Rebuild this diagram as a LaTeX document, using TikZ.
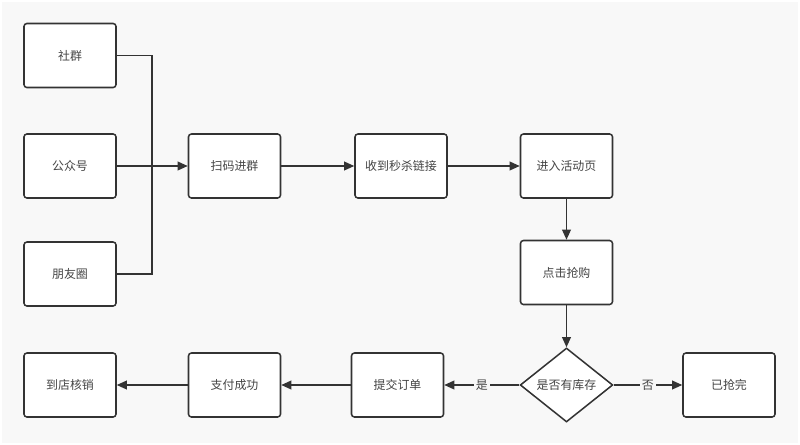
\documentclass[tikz,border=0pt]{standalone}
\usepackage{fontspec}
\setmainfont{Noto Sans CJK SC}
\usetikzlibrary{arrows.meta,shapes.geometric}
\definecolor{bgcol}{HTML}{F8F8F8}
\definecolor{linecol}{HTML}{333333}
\definecolor{textcol}{HTML}{444444}
\tikzset{
  stepbox/.style={draw=linecol,fill=white,line width=1.3pt,rounded corners=2.5pt,
    minimum width=2.76cm,minimum height=1.92cm,inner sep=0pt,text=textcol,
    font=\fontsize{10.2}{12}\selectfont},
  choice/.style={draw=linecol,fill=white,line width=1.3pt,diamond,aspect=1.24,
    minimum width=2.78cm,minimum height=2.22cm,inner sep=0pt,text=textcol,
    font=\fontsize{10.2}{12}\selectfont},
  flow/.style={draw=linecol,line width=1.3pt,-{Triangle[length=0.3cm,width=0.26cm]}},
  tag/.style={fill=bgcol,text=textcol,inner sep=1.5pt,font=\fontsize{10.2}{12}\selectfont}
}
\begin{document}
\begin{tikzpicture}[x=0.03cm,y=-0.03cm]
      \fill[white] (0,0) rectangle (800,445);
      \fill[bgcol] (2,2) rectangle (798,443);
      \draw
        (70,55.5) node[stepbox] (sq){社群}
        (70,166) node[stepbox] (gzh){公众号}
        (70,274) node[stepbox] (pyq){朋友圈}
        (234.5,166) node[stepbox] (smjq){扫码进群}
        (401,166) node[stepbox] (sdlj){收到秒杀链接}
        (566.5,166) node[stepbox] (jrhd){进入活动页}
        (566.5,272.5) node[stepbox] (djqg){点击抢购}
        (566.5,385) node[choice] (kc){是否有库存}
        (729,385) node[stepbox] (yqw){已抢完}
        (397.5,385) node[stepbox] (tjdd){提交订单}
        (234.5,385) node[stepbox] (zfcg){支付成功}
        (70,385) node[stepbox] (ddhx){到店核销};
      \coordinate (jn) at (152,166);
      \begin{scope}[flow]
        \draw[-] (sq) -| (jn);
        \draw[-] (pyq) -| (jn);
        \draw (gzh) to (smjq);
        \draw (smjq) to (sdlj);
        \draw (sdlj) to (jrhd);
        \draw (jrhd) to (djqg);
        \draw (djqg) to (kc);
        \draw (kc) to node[tag]{是} (tjdd);
        \draw (kc) to node[tag]{否} (yqw);
        \draw (tjdd) to (zfcg);
        \draw (zfcg) to (ddhx);
      \end{scope}
    \end{tikzpicture}
\end{document}
